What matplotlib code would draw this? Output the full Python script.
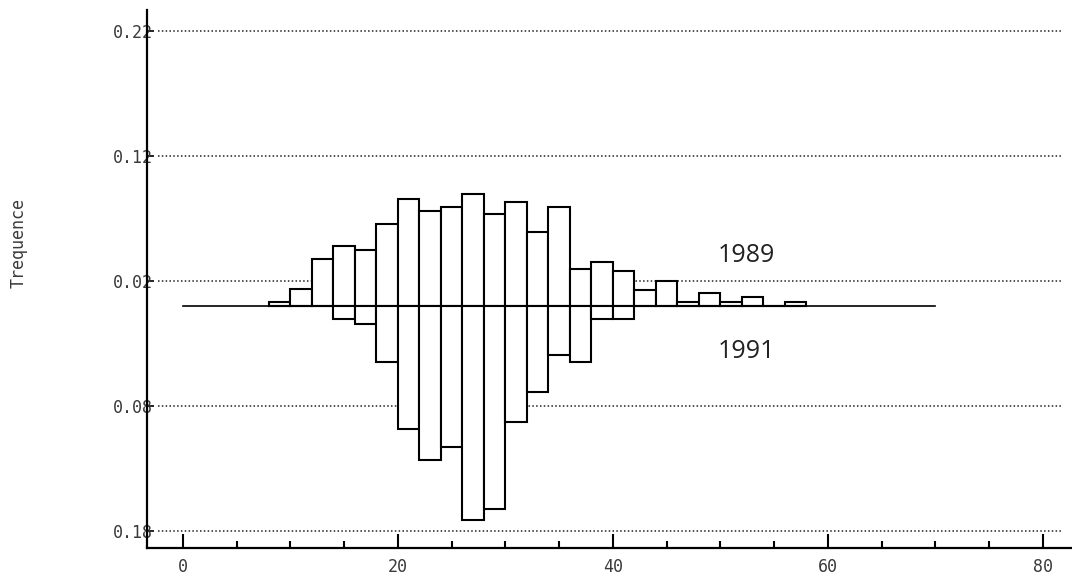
import matplotlib
matplotlib.use('Agg')
import matplotlib.pyplot as plt
import numpy as np

# bin left edges (width 2) and frequencies
bin_left = [8, 10, 12, 14, 16, 18, 20, 22, 24, 26, 28, 30, 32, 34,
            36, 38, 40, 42, 44, 46, 48, 50, 52, 54, 56]
freq_1989 = [0.003, 0.0135, 0.038, 0.048, 0.045, 0.066, 0.086, 0.076, 0.079, 0.0895,
             0.0735, 0.083, 0.059, 0.079, 0.030, 0.035, 0.028, 0.013, 0.020, 0.003,
             0.0105, 0.003, 0.007, 0.0, 0.003]
freq_1991 = [0.0, 0.0, 0.0, 0.0105, 0.0145, 0.0445, 0.098, 0.123, 0.1125, 0.171,
             0.162, 0.093, 0.069, 0.039, 0.0445, 0.0105, 0.0105, 0.0, 0.0, 0.0,
             0.0, 0.0, 0.0, 0.0, 0.0]

grid_y = [0.22, 0.12, 0.02, -0.08, -0.18]
ytick_labels = ['0.22', '0.12', '0.02', '0.08', '0.18']
xticks = [0, 20, 40, 60, 80]

fig = plt.figure(figsize=(10.72, 5.86), dpi=100)
ax = fig.add_axes([0.1371, 0.0648, 0.8629, 0.918])

tick_col = '#3a3a3a'

# dotted reference lines
ax.hlines(grid_y, -2.3, 81.8, colors='#222222', linestyles=(0, (1, 1.5)), linewidth=1.1)

# back-to-back bars
ax.bar(bin_left, freq_1989, width=2, align='edge', bottom=0,
       facecolor='white', edgecolor='black', linewidth=1.5, zorder=3)
ax.bar(bin_left, -np.array(freq_1991), width=2, align='edge', bottom=0,
       facecolor='white', edgecolor='black', linewidth=1.5, zorder=3)
# baseline
ax.plot([0, 70], [0, 0], color='black', linewidth=1.2, zorder=4)

ax.text(52.4, 0.0405, '1989', fontsize=18, family='Open Sans', color='#222222',
        ha='center', va='center')
ax.text(52.4, -0.0365, '1991', fontsize=18, family='Open Sans', color='#222222',
        ha='center', va='center')

ax.set_xlim(-3.35, 82.7)
ax.set_ylim(-0.1936, 0.2368)

for s in ['top', 'right']:
    ax.spines[s].set_visible(False)
for s in ['left', 'bottom']:
    ax.spines[s].set_linewidth(1.6)

ax.set_xticks(xticks)
ax.set_xticks(np.arange(0, 81, 5), minor=True)
ax.set_xticklabels([str(t) for t in xticks], family='DejaVu Sans Mono',
                   fontsize=12, color=tick_col)
ax.tick_params(axis='x', which='major', direction='in', length=10, width=1.5, pad=7)
ax.tick_params(axis='x', which='minor', direction='in', length=5, width=1.5)

ax.set_yticks(grid_y)
ax.set_yticklabels(ytick_labels, family='DejaVu Sans Mono', fontsize=12, color=tick_col)
ax.tick_params(axis='y', direction='in', length=5, width=1.2, pad=-4)

fig.text(19 / 1072, 1 - 243 / 586, 'Trequence', rotation=90, family='DejaVu Sans Mono',
         fontsize=12, color=tick_col, ha='center', va='center')

fig.savefig('out.png', dpi=100)
